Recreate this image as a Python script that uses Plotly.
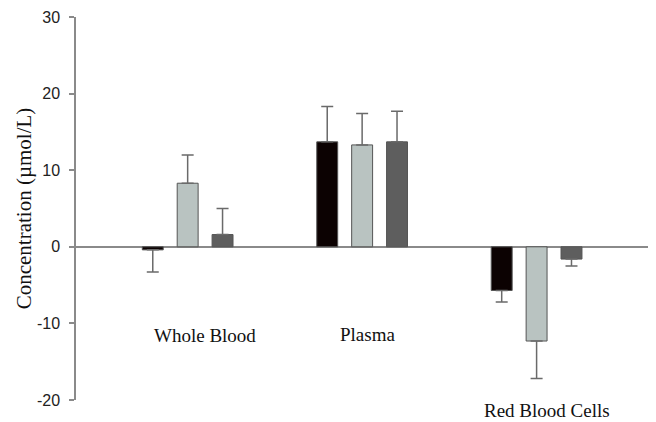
import plotly.graph_objects as go

groups = ["Whole Blood", "Plasma", "Red Blood Cells"]
series_names = ["Series A", "Series B", "Series C"]
values = [
    [-0.4, 13.7, -5.7],
    [8.3, 13.3, -12.3],
    [1.6, 13.7, -1.6],
]
errors = [
    [2.9, 4.6, 1.5],
    [3.7, 4.1, 4.9],
    [3.4, 4.0, 0.9],
]
colors = ["#0c0202", "#b9c3c1", "#5e5e5e"]
y_ticks = [-20, -10, 0, 10, 20, 30]
y_tick_labels = ["-20", "-10", "0", "10", "20", "30"]
y_min, y_max = -20, 30

# group label placement (category offset, data-scale y)
label_dx = [0.1, 0.03, 0.06]
label_y = [-11.6, -11.5, -21.4]

fig = go.Figure()
for name, vals, errs, col in zip(series_names, values, errors, colors):
    plus = [e if v >= 0 else 0 for v, e in zip(vals, errs)]
    minus = [e if v < 0 else 0 for v, e in zip(vals, errs)]
    fig.add_trace(go.Bar(
        x=groups, y=vals, name=name,
        marker=dict(color=col, line=dict(color="#555555", width=1)),
        error_y=dict(type="data", symmetric=False, array=plus, arrayminus=minus,
                     color="#6a6a6a", thickness=1.5, width=6),
    ))

for i, g in enumerate(groups):
    fig.add_annotation(x=i + label_dx[i], xref="x",
                       y=(label_y[i] - y_min) / (y_max - y_min), yref="paper",
                       yanchor="middle", xanchor="center",
                       text=g, showarrow=False,
                       font=dict(family="Liberation Serif", size=19, color="#111111"))

fig.update_layout(
    width=648, height=414,
    margin=dict(l=68, r=6, t=9, b=22, autoexpand=False),
    paper_bgcolor="white", plot_bgcolor="white",
    barmode="group", bargap=0.4, bargroupgap=0.4,
    showlegend=False,
    xaxis=dict(range=[-0.64, 2.65], showticklabels=False, showgrid=False,
               zeroline=False, showline=False, ticks="", automargin=False),
    yaxis=dict(range=[y_min, y_max], tickvals=y_ticks, ticktext=y_tick_labels,
               showgrid=False, automargin=False,
               zeroline=True, zerolinecolor="#8a8a8a", zerolinewidth=1.5,
               showline=True, linecolor="#8a8a8a", linewidth=1.5,
               ticks="outside", ticklen=5, tickcolor="#8a8a8a", tickwidth=1.5,
               ticklabelstandoff=6,
               tickfont=dict(family="Liberation Sans", size=16, color="#222222"),
               title=dict(text="Concentration (µmol/L)",
                          font=dict(family="Liberation Serif", size=21, color="#111111"),
                          standoff=0)),
)

fig.write_html("out.html")
